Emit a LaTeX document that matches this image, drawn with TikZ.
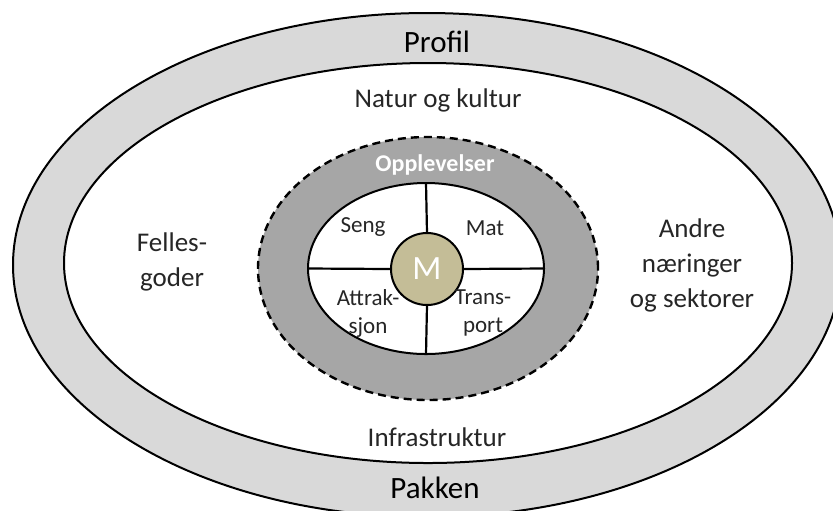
\documentclass[tikz,border=0pt]{standalone}
\usepackage{fontspec}
\setmainfont{Carlito}
\usepackage{xcolor}
\usetikzlibrary{shapes.geometric}
\definecolor{ringgra}{HTML}{D9D9D9}
\definecolor{midtgra}{HTML}{A6A6A6}
\definecolor{brunlig}{HTML}{C4BD97}
\tikzset{
  ytre/.style={font=\fontsize{13.5}{17.5}\selectfont, align=center, text=black!85},
  indre/.style={font=\fontsize{11.5}{14}\selectfont, align=center, text=black!85},
  eker/.style={line width=1.1pt}
}
\begin{document}
\begin{tikzpicture}[x=0.5pt,y=-0.5pt]
	\useasboundingbox (0,0) rectangle (833,510);
	\clip (0,0) rectangle (833,510);
	% Ytre ring
	\draw [line width=1pt, fill=ringgra] (427,265) ellipse [x radius=414, y radius=252];
	\draw [line width=1pt, fill=white] (428,263) ellipse [x radius=364, y radius=200];
	\node (profil) at (437,42) {\fontsize{15.5}{18}\selectfont Profil};
	\node (pakken) at (435,488) {\fontsize{15.5}{18}\selectfont Pakken};
	% Tekst i ringen
	\node [ytre] (natur) at (438,100) {Natur og kultur};
	\node [ytre] (felles) at (172,262) {Felles-\\goder};
	\node [ytre] (andre) at (692,265) {Andre\\næringer\\og sektorer};
	\node [ytre] (infra) at (437,437) {Infrastruktur};
	% Opplevelser
	\node [ellipse, draw, dash pattern=on 4pt off 2.5pt, line width=1.2pt, fill=midtgra,
	       minimum width=170pt, minimum height=131.5pt, inner sep=0pt, outer sep=0pt]
	      (opplev) at (428,268.5) {};
	\node [text=white, font=\bfseries\fontsize{12}{14}\selectfont] (opptekst) at (435,165) {Opplevelser};
	\node [ellipse, draw, line width=1pt, fill=white, minimum width=118pt, minimum height=85.5pt,
	       inner sep=0pt, outer sep=0pt] (kjerne) at (426,268.5) {};
	\node [circle, draw, line width=1pt, fill=brunlig, minimum size=36pt, inner sep=0pt, outer sep=0pt,
	       text=white, font=\fontsize{17}{20}\selectfont] (m) at (427,269) {M};
	% Eker
	\draw [eker] (kjerne.north) -- (m.north);
	\draw [eker] (m.south) -- (kjerne.south);
	\draw [eker] (kjerne.west) -- (m.west);
	\draw [eker] (m.east) -- (kjerne.east);
	\node [indre] (seng) at (363,227) {Seng};
	\node [indre] (mat) at (485,228) {Mat};
	\node [indre] (attrak) at (368,313) {Attrak-\\sjon};
	\node [indre] (trans) at (483,313) {Trans-\\port};
\end{tikzpicture}
\end{document}
